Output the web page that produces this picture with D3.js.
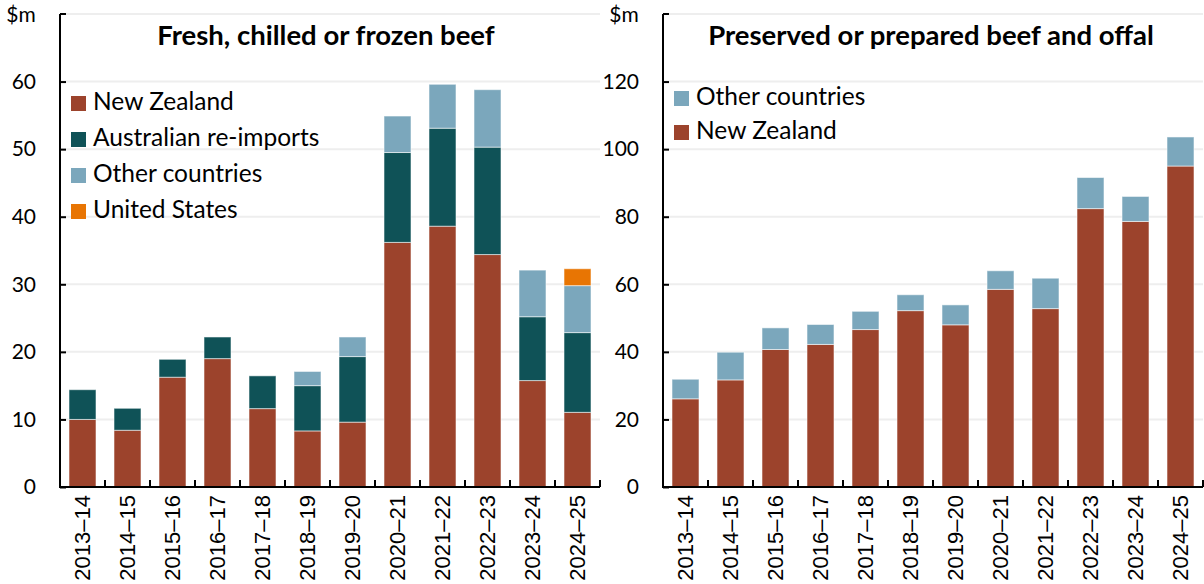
<!DOCTYPE html>
<html><head><meta charset="utf-8">
<script src="https://cdn.jsdelivr.net/npm/d3@7"></script>
<style>
body{margin:0;background:#fff;}
svg{display:block;}
</style></head>
<body>
<svg id="chart" width="1204" height="584"></svg>
<script>
const years = ["2013–14","2014–15","2015–16","2016–17","2017–18","2018–19","2019–20","2020–21","2021–22","2022–23","2023–24","2024–25"];
// Left panel: Fresh, chilled or frozen beef ($m)
const freshNZ    = [10.0, 8.4, 16.25, 19.0, 11.6, 8.3, 9.6, 36.2, 38.6, 34.4, 15.75, 11.05];
const freshAU    = [4.4, 3.25, 2.65, 3.2, 4.85, 6.7, 9.7, 13.3, 14.5, 15.9, 9.45, 11.8];
const freshOther = [0, 0, 0, 0, 0, 2.1, 2.9, 5.4, 6.5, 8.5, 6.9, 6.95];
const freshUS    = [0, 0, 0, 0, 0, 0, 0, 0, 0, 0, 0, 2.5];
const freshTicks = [0,10,20,30,40,50,60,70];
// Right panel: Preserved or prepared beef and offal ($m)
const presNZ     = [26.1, 31.7, 40.7, 42.2, 46.6, 52.2, 48.0, 58.5, 52.8, 82.4, 78.6, 95.0];
const presOther  = [5.8, 8.2, 6.4, 5.9, 5.4, 4.7, 5.9, 5.5, 9.0, 9.2, 7.4, 8.6];
const presTicks  = [0,20,40,60,80,100,120,140];

const colors = {nz:"#9c432c", au:"#0f5257", other:"#7ba7bc", us:"#e87503"};
const svg = d3.select("#chart");
const FONT = "Lato, 'Open Sans', sans-serif";

function panel(opt){
  const g = svg.append("g");
  const x = d3.scaleBand().domain(years).range([opt.x0, opt.x0+540]).paddingInner(0.4).paddingOuter(0.2);
  const y = d3.scaleLinear().domain([0, opt.ymax]).range([487, 14]);
  // gridlines
  g.append("g").selectAll("line").data(opt.ticks.filter(t=>t>0)).join("line")
    .attr("x1", opt.x0).attr("x2", opt.x0+540)
    .attr("y1", d=>y(d)).attr("y2", d=>y(d))
    .attr("stroke","#eeeeee").attr("stroke-width",2);
  // stacked bars
  const rows = years.map((yr,i)=>{ const r={year:yr}; opt.series.forEach(s=>r[s.key]=s.values[i]); return r;});
  const stack = d3.stack().keys(opt.series.map(s=>s.key))(rows);
  stack.forEach(layer=>{
    const col = opt.series.find(s=>s.key===layer.key).color;
    g.append("g").selectAll("rect").data(layer.filter(d=>d[1]-d[0]>0)).join("rect")
      .attr("x", d=>x(d.data.year)).attr("width", x.bandwidth())
      .attr("y", d=>y(d[1])).attr("height", d=>y(d[0])-y(d[1]))
      .attr("fill", col).attr("stroke","rgba(255,255,255,0.55)").attr("stroke-width",1);
  });
  // y axis
  const ya = g.append("g").attr("transform",`translate(${opt.x0},0)`)
    .call(d3.axisLeft(y).tickValues(opt.ticks.slice(0,-1)).tickSize(-6).tickSizeOuter(0).tickPadding(24));
  ya.select(".domain").remove();
  ya.selectAll("line").attr("stroke","#000").attr("stroke-width",2);
  ya.selectAll("text").attr("font-family",FONT).attr("font-size",21).attr("fill","#000");
  g.append("line").attr("x1",opt.x0).attr("x2",opt.x0).attr("y1",14).attr("y2",488).attr("stroke","#000").attr("stroke-width",2);
  g.append("line").attr("x1",opt.x0).attr("x2",opt.x0+6).attr("y1",y(opt.ymax)).attr("y2",y(opt.ymax)).attr("stroke","#000").attr("stroke-width",2);
  g.append("text").attr("x",opt.x0-39).attr("y",22).attr("font-family",FONT).attr("font-size",21).attr("text-anchor","middle").text("$m");
  // x axis
  const xa = g.append("g").attr("transform","translate(0,487)")
    .call(d3.axisBottom(x).tickSize(0).tickSizeOuter(0).tickPadding(0));
  xa.select(".domain").remove();
  xa.selectAll("text").attr("font-family","'Liberation Sans', Arial, sans-serif").attr("font-size",22).attr("fill","#000")
    .attr("text-anchor","end").attr("transform","rotate(-90)").attr("dy","0.36em").attr("dx","-8").attr("x",0).attr("y",0);
  g.append("line").attr("x1",opt.x0-1).attr("x2",opt.x0+540).attr("y1",487).attr("y2",487).attr("stroke","#000").attr("stroke-width",2);
  const bounds = d3.range(years.length+1).map(k=>x.range()[0]+k*x.step());
  g.append("g").selectAll("line").data(bounds).join("line")
    .attr("x1",d=>d).attr("x2",d=>d).attr("y1",487).attr("y2",480).attr("stroke","#000").attr("stroke-width",2);
  // title
  g.append("text").attr("x",opt.titleX).attr("y",45).attr("text-anchor","middle")
    .attr("font-family",FONT).attr("font-weight","bold").attr("font-size",27.5).text(opt.title);
  // legend
  opt.legend.forEach((s,i)=>{
    const by = opt.legY + i*opt.legStep;
    g.append("rect").attr("x",opt.x0+11).attr("y",by-14).attr("width",15).attr("height",15).attr("fill",s.color);
    g.append("text").attr("x",opt.x0+33).attr("y",by).attr("font-family",FONT).attr("font-size",24.5).text(s.name);
  });
}

panel({x0:60, ymax:70, ticks:freshTicks, titleX:326, title:"Fresh, chilled or frozen beef",
  series:[{key:"nz",values:freshNZ,color:colors.nz},{key:"au",values:freshAU,color:colors.au},
          {key:"other",values:freshOther,color:colors.other},{key:"us",values:freshUS,color:colors.us}],
  legend:[{name:"New Zealand",color:colors.nz},{name:"Australian re-imports",color:colors.au},
          {name:"Other countries",color:colors.other},{name:"United States",color:colors.us}],
  legY:110, legStep:36});
panel({x0:663, ymax:140, ticks:presTicks, titleX:931, title:"Preserved or prepared beef and offal",
  series:[{key:"nz",values:presNZ,color:colors.nz},{key:"other",values:presOther,color:colors.other}],
  legend:[{name:"Other countries",color:colors.other},{name:"New Zealand",color:colors.nz}],
  legY:105, legStep:34});
</script>
</body></html>
